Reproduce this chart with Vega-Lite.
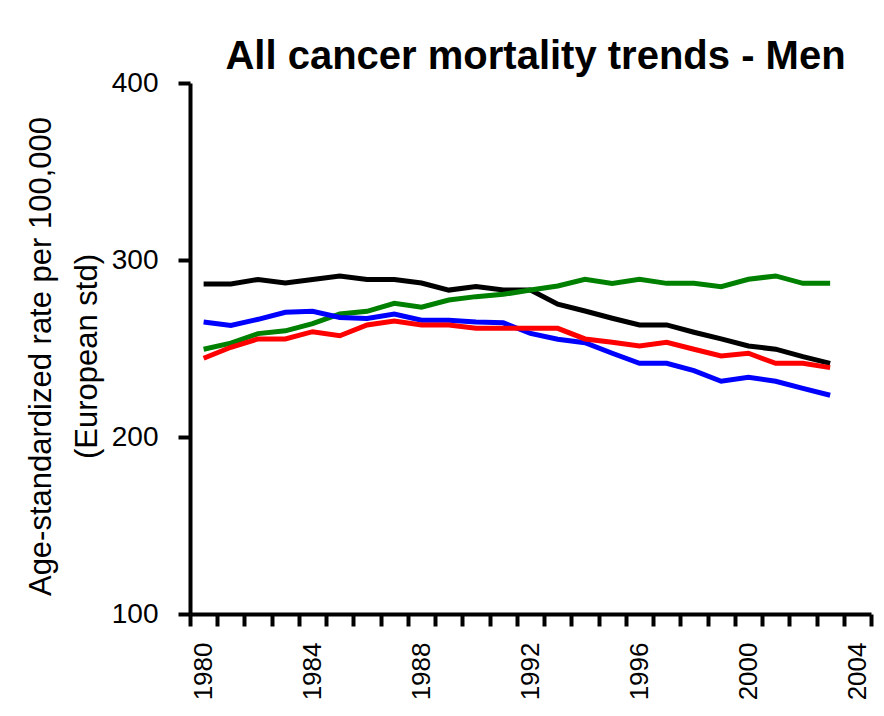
{
  "$schema": "https://vega.github.io/schema/vega-lite/v6.json",
  "width": 681,
  "height": 531,
  "autosize": {"type": "none"},
  "padding": {"left": 190, "top": 83, "right": 13, "bottom": 102},
  "background": "white",
  "config": {
    "view": {"stroke": null},
    "font": "Liberation Sans"
  },
  "title": {
    "text": "All cancer mortality trends - Men",
    "font": "Liberation Sans",
    "fontSize": 40,
    "fontWeight": "bold",
    "color": "black",
    "anchor": "middle",
    "frame": "group",
    "baseline": "alphabetic",
    "offset": 4,
    "dx": 5,
    "dy": 44
  },
  "data": {
    "values": [
      {"year": 1980, "series": "Black", "value": 286.5},
      {"year": 1981, "series": "Black", "value": 286.5},
      {"year": 1982, "series": "Black", "value": 289},
      {"year": 1983, "series": "Black", "value": 287},
      {"year": 1984, "series": "Black", "value": 289},
      {"year": 1985, "series": "Black", "value": 291},
      {"year": 1986, "series": "Black", "value": 289},
      {"year": 1987, "series": "Black", "value": 289},
      {"year": 1988, "series": "Black", "value": 287},
      {"year": 1989, "series": "Black", "value": 283},
      {"year": 1990, "series": "Black", "value": 285},
      {"year": 1991, "series": "Black", "value": 283},
      {"year": 1992, "series": "Black", "value": 283},
      {"year": 1993, "series": "Black", "value": 275},
      {"year": 1994, "series": "Black", "value": 271.2},
      {"year": 1995, "series": "Black", "value": 267.1},
      {"year": 1996, "series": "Black", "value": 263.3},
      {"year": 1997, "series": "Black", "value": 263.3},
      {"year": 1998, "series": "Black", "value": 259.2},
      {"year": 1999, "series": "Black", "value": 255.4},
      {"year": 2000, "series": "Black", "value": 251.4},
      {"year": 2001, "series": "Black", "value": 249.6},
      {"year": 2002, "series": "Black", "value": 245.4},
      {"year": 2003, "series": "Black", "value": 241.6},
      {"year": 1980, "series": "Green", "value": 249.6},
      {"year": 1981, "series": "Green", "value": 253},
      {"year": 1982, "series": "Green", "value": 258.4},
      {"year": 1983, "series": "Green", "value": 260},
      {"year": 1984, "series": "Green", "value": 264},
      {"year": 1985, "series": "Green", "value": 269.5},
      {"year": 1986, "series": "Green", "value": 271},
      {"year": 1987, "series": "Green", "value": 275.5},
      {"year": 1988, "series": "Green", "value": 273.3},
      {"year": 1989, "series": "Green", "value": 277.4},
      {"year": 1990, "series": "Green", "value": 279.3},
      {"year": 1991, "series": "Green", "value": 280.6},
      {"year": 1992, "series": "Green", "value": 283},
      {"year": 1993, "series": "Green", "value": 285.3},
      {"year": 1994, "series": "Green", "value": 289.1},
      {"year": 1995, "series": "Green", "value": 286.8},
      {"year": 1996, "series": "Green", "value": 289.1},
      {"year": 1997, "series": "Green", "value": 286.8},
      {"year": 1998, "series": "Green", "value": 286.8},
      {"year": 1999, "series": "Green", "value": 284.9},
      {"year": 2000, "series": "Green", "value": 289.1},
      {"year": 2001, "series": "Green", "value": 291},
      {"year": 2002, "series": "Green", "value": 286.8},
      {"year": 2003, "series": "Green", "value": 286.8},
      {"year": 1980, "series": "Blue", "value": 265},
      {"year": 1981, "series": "Blue", "value": 263},
      {"year": 1982, "series": "Blue", "value": 266.5},
      {"year": 1983, "series": "Blue", "value": 270.5},
      {"year": 1984, "series": "Blue", "value": 271},
      {"year": 1985, "series": "Blue", "value": 267.5},
      {"year": 1986, "series": "Blue", "value": 267},
      {"year": 1987, "series": "Blue", "value": 269.5},
      {"year": 1988, "series": "Blue", "value": 266},
      {"year": 1989, "series": "Blue", "value": 266},
      {"year": 1990, "series": "Blue", "value": 265},
      {"year": 1991, "series": "Blue", "value": 264.5},
      {"year": 1992, "series": "Blue", "value": 258.5},
      {"year": 1993, "series": "Blue", "value": 255.2},
      {"year": 1994, "series": "Blue", "value": 253.3},
      {"year": 1995, "series": "Blue", "value": 247.3},
      {"year": 1996, "series": "Blue", "value": 241.6},
      {"year": 1997, "series": "Blue", "value": 241.6},
      {"year": 1998, "series": "Blue", "value": 237.5},
      {"year": 1999, "series": "Blue", "value": 231.5},
      {"year": 2000, "series": "Blue", "value": 233.7},
      {"year": 2001, "series": "Blue", "value": 231.5},
      {"year": 2002, "series": "Blue", "value": 227.5},
      {"year": 2003, "series": "Blue", "value": 223.6},
      {"year": 1980, "series": "Red", "value": 244.5},
      {"year": 1981, "series": "Red", "value": 250.7},
      {"year": 1982, "series": "Red", "value": 255.4},
      {"year": 1983, "series": "Red", "value": 255.4},
      {"year": 1984, "series": "Red", "value": 259.5},
      {"year": 1985, "series": "Red", "value": 257.2},
      {"year": 1986, "series": "Red", "value": 263.3},
      {"year": 1987, "series": "Red", "value": 265.5},
      {"year": 1988, "series": "Red", "value": 263.3},
      {"year": 1989, "series": "Red", "value": 263.3},
      {"year": 1990, "series": "Red", "value": 261.4},
      {"year": 1991, "series": "Red", "value": 261.4},
      {"year": 1992, "series": "Red", "value": 261.4},
      {"year": 1993, "series": "Red", "value": 261.4},
      {"year": 1994, "series": "Red", "value": 255.4},
      {"year": 1995, "series": "Red", "value": 253.5},
      {"year": 1996, "series": "Red", "value": 251.4},
      {"year": 1997, "series": "Red", "value": 253.5},
      {"year": 1998, "series": "Red", "value": 249.6},
      {"year": 1999, "series": "Red", "value": 245.8},
      {"year": 2000, "series": "Red", "value": 247.3},
      {"year": 2001, "series": "Red", "value": 241.6},
      {"year": 2002, "series": "Red", "value": 241.6},
      {"year": 2003, "series": "Red", "value": 239.2}
    ]
  },
  "mark": {"type": "line", "strokeWidth": 5, "strokeJoin": "miter", "strokeCap": "butt"},
  "encoding": {
    "x": {
      "field": "year",
      "type": "quantitative",
      "scale": {"domain": [1979.5, 2004.5], "nice": false, "zero": false},
      "axis": {
        "title": null,
        "grid": false,
        "values": [1979.5, 1980.5, 1981.5, 1982.5, 1983.5, 1984.5, 1985.5, 1986.5, 1987.5, 1988.5, 1989.5, 1990.5, 1991.5, 1992.5, 1993.5, 1994.5, 1995.5, 1996.5, 1997.5, 1998.5, 1999.5, 2000.5, 2001.5, 2002.5, 2003.5, 2004.5],
        "labelExpr": "(datum.value + 0.5) % 4 == 0 && datum.value < 2004 ? '' + (datum.value + 0.5) : ''",
        "labelOffset": 13.6,
        "labelAngle": 270,
        "labelAlign": "right",
        "labelBaseline": "middle",
        "labelFlush": false,
        "labelOverlap": false,
        "labelBound": false,
        "labelFont": "Liberation Sans",
        "labelFontSize": 26,
        "labelColor": "black",
        "labelPadding": 16,
        "tickSize": 12,
        "tickWidth": 4,
        "tickColor": "black",
        "domainColor": "black",
        "domainWidth": 4
      }
    },
    "y": {
      "field": "value",
      "type": "quantitative",
      "scale": {"domain": [100, 400], "nice": false, "zero": false},
      "axis": {
        "title": ["Age-standardized rate per 100,000", "(European std)"],
        "titleFont": "Liberation Sans",
        "titleFontSize": 31,
        "titleFontWeight": "normal",
        "titleColor": "black",
        "titleLineHeight": 46,
        "titlePadding": 8,
        "titleY": 273,
        "grid": false,
        "values": [100, 200, 300, 400],
        "labelFont": "Liberation Sans",
        "labelFontSize": 28,
        "labelColor": "black",
        "labelPadding": 20,
        "labelFlush": false,
        "tickSize": 12,
        "tickWidth": 4,
        "tickColor": "black",
        "domainColor": "black",
        "domainWidth": 4
      }
    },
    "color": {
      "field": "series",
      "type": "nominal",
      "scale": {"domain": ["Green", "Blue", "Red", "Black"], "range": ["#008000", "#0000ff", "#ff0000", "#000000"]},
      "legend": null
    },
    "order": {"field": "year", "type": "quantitative"}
  }
}
